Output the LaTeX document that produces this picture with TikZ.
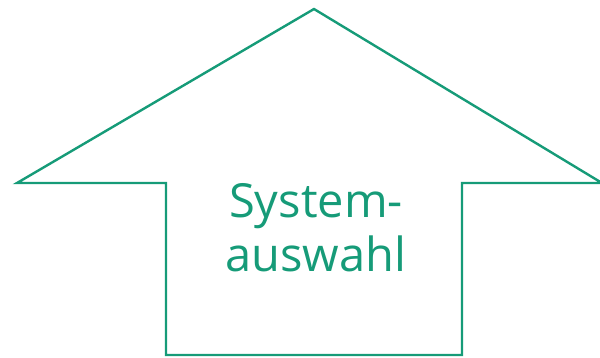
\documentclass[tikz,border=0pt]{standalone}
\usepackage{fontspec}
\setmainfont{Open Sans}
\definecolor{hgreen}{RGB}{22,155,120}
\begin{document}
\begin{tikzpicture}[x=1pt,y=-1pt,
  outline/.style={draw=hgreen,line width=2.4pt,line join=miter},
  label/.style={text=hgreen,font=\fontsize{47}{54}\selectfont,align=center}]
\useasboundingbox (0,0) rectangle (600,357);
\draw[outline] (166,355) -- (166,183) -- (17,183) -- (314,9) -- (602,183) -- (462,183) -- (462,355) -- cycle;
\node[label] (t) at (316,228) {System-\\auswahl};
\end{tikzpicture}
\end{document}
